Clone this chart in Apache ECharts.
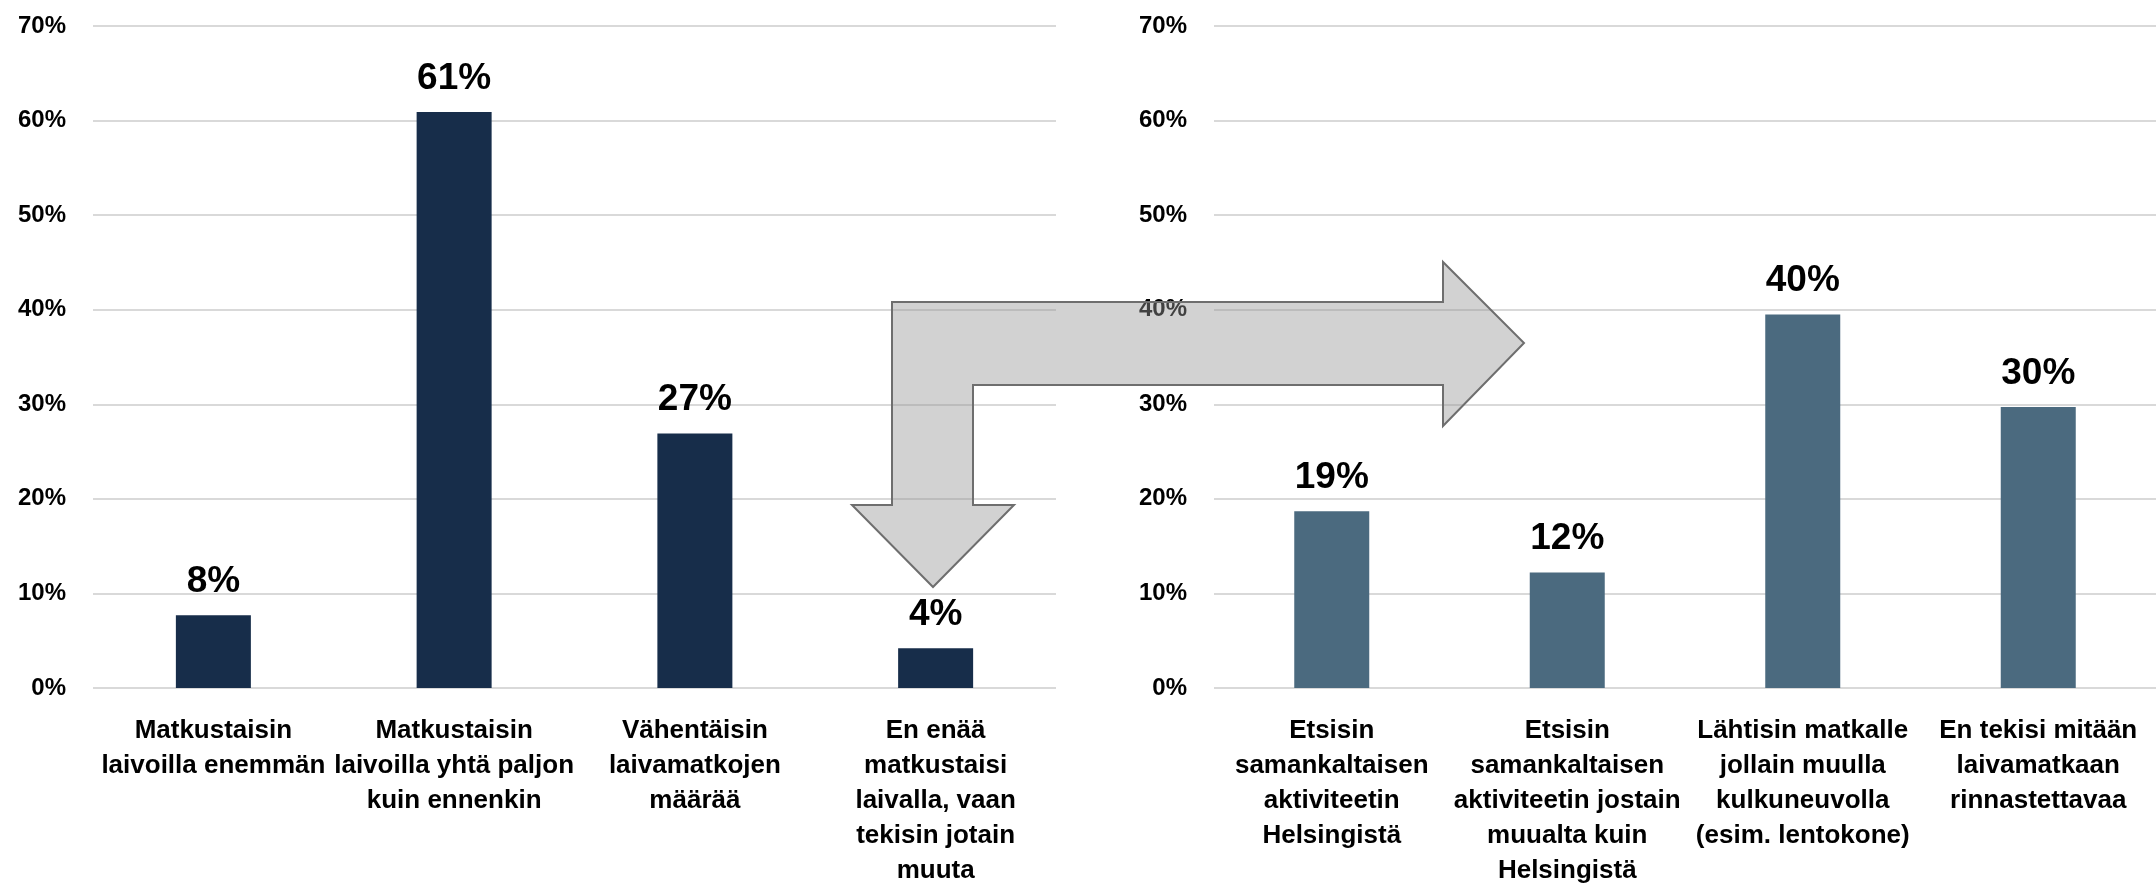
<!DOCTYPE html>
<html>
<head>
<meta charset="utf-8">
<script src="https://cdn.jsdelivr.net/npm/echarts@6/dist/echarts.min.js"></script>
<style>
html,body{margin:0;padding:0;background:#fff;}
#chart{width:2156px;height:888px;}
</style>
</head>
<body>
<div id="chart"></div>
<script>
// ---- data ----
const leftCategories = [
  "Matkustaisin\nlaivoilla enemmän",
  "Matkustaisin\nlaivoilla yhtä paljon\nkuin ennenkin",
  "Vähentäisin\nlaivamatkojen\nmäärää",
  "En enää\nmatkustaisi\nlaivalla, vaan\ntekisin jotain\nmuuta"
];
const leftValues = [7.7, 60.9, 26.9, 4.2];

const rightCategories = [
  "Etsisin\nsamankaltaisen\naktiviteetin\nHelsingistä",
  "Etsisin\nsamankaltaisen\naktiviteetin jostain\nmuualta kuin\nHelsingistä",
  "Lähtisin matkalle\njollain muulla\nkulkuneuvolla\n(esim. lentokone)",
  "En tekisi mitään\nlaivamatkaan\nrinnastettavaa"
];
const rightValues = [18.7, 12.2, 39.5, 29.7];

const yTicks = { min: 0, max: 70, interval: 10 };

// ---- chart ----
const FONT = '"Liberation Sans", Arial, sans-serif';
const chart = echarts.init(document.getElementById('chart'), null, {renderer: 'canvas'});

function yAxis(gridIndex) {
  return {
    type: 'value', gridIndex: gridIndex,
    min: yTicks.min, max: yTicks.max, interval: yTicks.interval,
    axisLine: {show: false}, axisTick: {show: false},
    axisLabel: {formatter: '{value}%', color: '#000', fontWeight: 'bold', fontSize: 24, fontFamily: FONT, margin: 27},
    splitLine: {lineStyle: {color: '#d9d9d9', width: 2}}
  };
}
function xAxis(gridIndex, cats) {
  return {
    type: 'category', gridIndex: gridIndex, data: cats,
    axisLine: {show: false}, axisTick: {show: false},
    axisLabel: {interval: 0, color: '#000', fontWeight: 'bold', fontSize: 26, lineHeight: 35, fontFamily: FONT, margin: 25, align: 'center', verticalAlign: 'top'}
  };
}
function barSeries(idx, values, color) {
  return {
    type: 'bar', xAxisIndex: idx, yAxisIndex: idx, data: values,
    barWidth: 75,
    itemStyle: {color: color},
    label: {
      show: true, position: 'top', distance: 15,
      formatter: p => Math.round(p.value) + '%',
      color: '#000', fontWeight: 'bold', fontSize: 37, fontFamily: FONT
    }
  };
}

// decorative bent arrow (annotation shape)
const arrowPts = [
  [892, 302], [1443, 302], [1443, 262], [1524, 343], [1443, 426], [1443, 385],
  [973, 385], [973, 505], [1014, 505], [933, 587], [852, 505], [892, 505]
];

chart.setOption({
  animation: false,
  backgroundColor: '#fff',
  grid: [
    {left: 93, width: 963, top: 26, height: 668},
    {left: 1214, width: 962, top: 26, height: 668}
  ],
  xAxis: [xAxis(0, leftCategories), xAxis(1, rightCategories)],
  yAxis: [yAxis(0), yAxis(1)],
  series: [
    barSeries(0, leftValues, '#172d4a'),
    barSeries(1, rightValues, '#4b6a7f')
  ],
  graphic: [{
    type: 'polygon', z: 100,
    shape: {points: arrowPts},
    style: {fill: 'rgba(150,150,150,0.43)', stroke: '#6e6e6e', lineWidth: 2}
  }]
});
</script>
</body>
</html>
